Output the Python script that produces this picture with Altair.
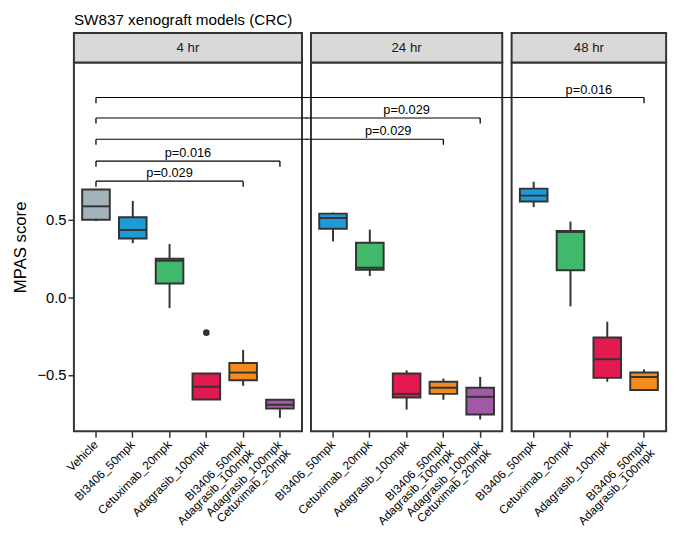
import altair as alt
import pandas as pd

# ---------------- data ----------------
cats_4hr = ["Vehicle", "BI3406_50mpk", "Cetuximab_20mpk", "Adagrasib_100mpk",
            "BI3406_50mpk\nAdagrasib_100mpk", "Adagrasib_100mpk\nCetuximab_20mpk"]
lower_4hr = [0.490, 0.348, -0.070, -0.658, -0.570, -0.776]
q1_4hr = [0.498, 0.378, 0.089, -0.658, -0.535, -0.717]
med_4hr = [0.585, 0.433, 0.235, -0.576, -0.485, -0.692]
q3_4hr = [0.694, 0.515, 0.247, -0.491, -0.424, -0.660]
upper_4hr = [0.694, 0.620, 0.342, -0.491, -0.339, -0.660]
out_cat_4hr = ["Adagrasib_100mpk"]
out_val_4hr = [-0.228]

cats_24hr = ["BI3406_50mpk", "Cetuximab_20mpk", "Adagrasib_100mpk",
             "BI3406_50mpk\nAdagrasib_100mpk", "Adagrasib_100mpk\nCetuximab_20mpk"]
lower_24hr = [0.359, 0.137, -0.723, -0.660, -0.787]
q1_24hr = [0.441, 0.177, -0.645, -0.622, -0.755]
med_24hr = [0.510, 0.190, -0.622, -0.582, -0.641]
q3_24hr = [0.538, 0.350, -0.491, -0.544, -0.582]
upper_24hr = [0.545, 0.435, -0.470, -0.523, -0.513]

cats_48hr = ["BI3406_50mpk", "Cetuximab_20mpk", "Adagrasib_100mpk",
             "BI3406_50mpk\nAdagrasib_100mpk"]
lower_48hr = [0.580, -0.059, -0.544, -0.603]
q1_48hr = [0.616, 0.173, -0.519, -0.597]
med_48hr = [0.654, 0.420, -0.399, -0.513]
q3_48hr = [0.699, 0.426, -0.259, -0.485]
upper_48hr = [0.743, 0.487, -0.158, -0.464]

group_colors = {
    "Vehicle": "#a3b3bc",
    "BI3406_50mpk": "#1e9ad6",
    "Cetuximab_20mpk": "#41b96a",
    "Adagrasib_100mpk": "#e31a4f",
    "BI3406_50mpk\nAdagrasib_100mpk": "#f28b20",
    "Adagrasib_100mpk\nCetuximab_20mpk": "#a35aa6",
}

# comparisons: all start at Vehicle (4 hr)
cmp_panel = ["48 hr", "24 hr", "24 hr", "4 hr", "4 hr"]
cmp_group = ["BI3406_50mpk\nAdagrasib_100mpk", "Adagrasib_100mpk\nCetuximab_20mpk",
             "BI3406_50mpk\nAdagrasib_100mpk", "Adagrasib_100mpk\nCetuximab_20mpk",
             "BI3406_50mpk\nAdagrasib_100mpk"]
cmp_y = [1.285, 1.154, 1.017, 0.876, 0.747]
cmp_label = ["p=0.016", "p=0.029", "p=0.029", "p=0.016", "p=0.029"]

panels = ["4 hr", "24 hr", "48 hr"]

# ---------------- layout constants ----------------
STEP = 37.4
GAP = 9
YMIN, YMAX = -0.863, 1.511
TICK = 0.036
DARK = "#333333"

yscale = alt.Scale(domain=[YMIN, YMAX], nice=False, zero=False)


def make_panel(pi, cats, lower, q1, med, q3, upper, out_cat=None, out_val=None):
    hr = panels[pi]
    n = len(cats)
    W = STEP * (n + 0.2)
    df = pd.DataFrame({"cat": cats, "lower": lower, "q1": q1, "med": med,
                       "q3": q3, "upper": upper})
    xscale = alt.Scale(domain=cats, paddingInner=0.25, paddingOuter=0.225)
    xenc = alt.X("cat:N", sort=cats, scale=xscale,
                 axis=alt.Axis(title=None, labelAngle=-45, labelAlign="right",
                               labelBaseline="middle",
                               labelExpr="split(datum.label, '\\n')",
                               labelFontSize=12, labelColor="black",
                               labelFont="Liberation Sans", labelPadding=5,
                               labelLimit=0, labelLineHeight=12,
                               tickColor=DARK, tickWidth=1.5, tickSize=6,
                               domain=False, grid=False))
    if pi == 0:
        yaxis = alt.Axis(values=[-0.5, 0, 0.5], format=".1f", title="MPAS score",
                         titleFontSize=17, titleFontWeight="normal", titleColor="black",
                         titleFont="Liberation Sans", labelFont="Liberation Sans",
                         labelFontSize=15, labelColor="black", labelPadding=2,
                         tickSize=6, tickWidth=1.5, tickColor=DARK,
                         domain=False, grid=False, titlePadding=8)
    else:
        yaxis = None

    base = alt.Chart(df)
    whisk = base.mark_rule(color=DARK, strokeWidth=2).encode(
        x=xenc, y=alt.Y("lower:Q", scale=yscale, axis=yaxis), y2="upper:Q")
    box = base.mark_bar(stroke=DARK, strokeWidth=2).encode(
        x=xenc, y=alt.Y("q1:Q", scale=yscale), y2="q3:Q",
        color=alt.Color("cat:N", scale=alt.Scale(domain=cats,
                                                 range=[group_colors[c] for c in cats]),
                        legend=None))
    median = base.mark_tick(color=DARK, thickness=2, size=0.75 * STEP, opacity=1).encode(
        x=xenc, y=alt.Y("med:Q", scale=yscale))
    layers = [whisk, box, median]

    if out_cat:
        odf = pd.DataFrame({"cat": out_cat, "val": out_val})
        layers.append(alt.Chart(odf).mark_circle(color=DARK, size=45, opacity=1).encode(
            x=xenc, y=alt.Y("val:Q", scale=yscale)))

    # significance brackets
    for k in range(len(cmp_y)):
        end_pi = panels.index(cmp_panel[k])
        if pi > end_pi:
            continue
        bdf = pd.DataFrame({"start": [cats[0]], "end": [cmp_group[k]], "y": [cmp_y[k]],
                            "y2": [cmp_y[k] - TICK], "label": [cmp_label[k]]})
        bc = alt.Chart(bdf)
        ys = alt.Y("y:Q", scale=yscale)
        if pi == 0 and end_pi == 0:
            layers.append(bc.mark_rule(color="black", strokeWidth=1.1).encode(
                x=alt.X("start:N", scale=xscale), x2="end:N", y=ys))
        elif pi == 0:
            layers.append(bc.mark_rule(color="black", strokeWidth=1.1).encode(
                x=alt.X("start:N", scale=xscale), x2=alt.value(W + GAP / 2 + 1), y=ys))
        elif pi < end_pi:
            layers.append(bc.mark_rule(color="black", strokeWidth=1.1).encode(
                x=alt.value(-GAP / 2 - 1), x2=alt.value(W + GAP / 2 + 1), y=ys))
        else:
            layers.append(bc.mark_rule(color="black", strokeWidth=1.1).encode(
                x=alt.X("end:N", scale=xscale), x2=alt.value(-GAP / 2 - 1), y=ys))
        if pi == 0:
            layers.append(bc.mark_rule(color="black", strokeWidth=1.3).encode(
                x=alt.X("start:N", scale=xscale), y=ys, y2="y2:Q"))
        if pi == end_pi:
            layers.append(bc.mark_rule(color="black", strokeWidth=1.3).encode(
                x=alt.X("end:N", scale=xscale), y=ys, y2="y2:Q"))
            span = cats.index(cmp_group[k])
            layers.append(bc.mark_text(fontSize=13, baseline="bottom", dy=-1,
                                       dx=span * STEP / 2, font="Liberation Sans",
                                       color="black").encode(
                x=alt.X("start:N", scale=xscale), y=ys, text="label:N"))

    # strip header
    sdf = pd.DataFrame({"t": [hr]})
    layers.append(alt.Chart(sdf).mark_rect(fill="#d9d9d9", stroke=DARK, strokeWidth=2).encode(
        x=alt.value(0), x2=alt.value(W), y=alt.value(-30), y2=alt.value(0)))
    layers.append(alt.Chart(sdf).mark_text(fontSize=13.5, font="Liberation Sans",
                                           color="#1a1a1a").encode(
        x=alt.value(W / 2), y=alt.value(-15), text="t:N"))

    return alt.layer(*layers).properties(width=W, height=375)


p1 = make_panel(0, cats_4hr, lower_4hr, q1_4hr, med_4hr, q3_4hr, upper_4hr,
                out_cat_4hr, out_val_4hr)
p2 = make_panel(1, cats_24hr, lower_24hr, q1_24hr, med_24hr, q3_24hr, upper_24hr)
p3 = make_panel(2, cats_48hr, lower_48hr, q1_48hr, med_48hr, q3_48hr, upper_48hr)

chart = alt.hconcat(p1, p2, p3, spacing=GAP, bounds="flush").properties(
    title=alt.TitleParams("SW837 xenograft models (CRC)", anchor="start", fontSize=15.5,
                          fontWeight="normal", font="Liberation Sans", color="black",
                          offset=3, frame="group"),
    padding={"left": 2, "top": 0, "right": 0, "bottom": 0},
    background="white",
).configure_view(stroke=DARK, strokeWidth=2, fill="white")

chart.save("out.html", embed_options={"renderer": "svg", "actions": False})
